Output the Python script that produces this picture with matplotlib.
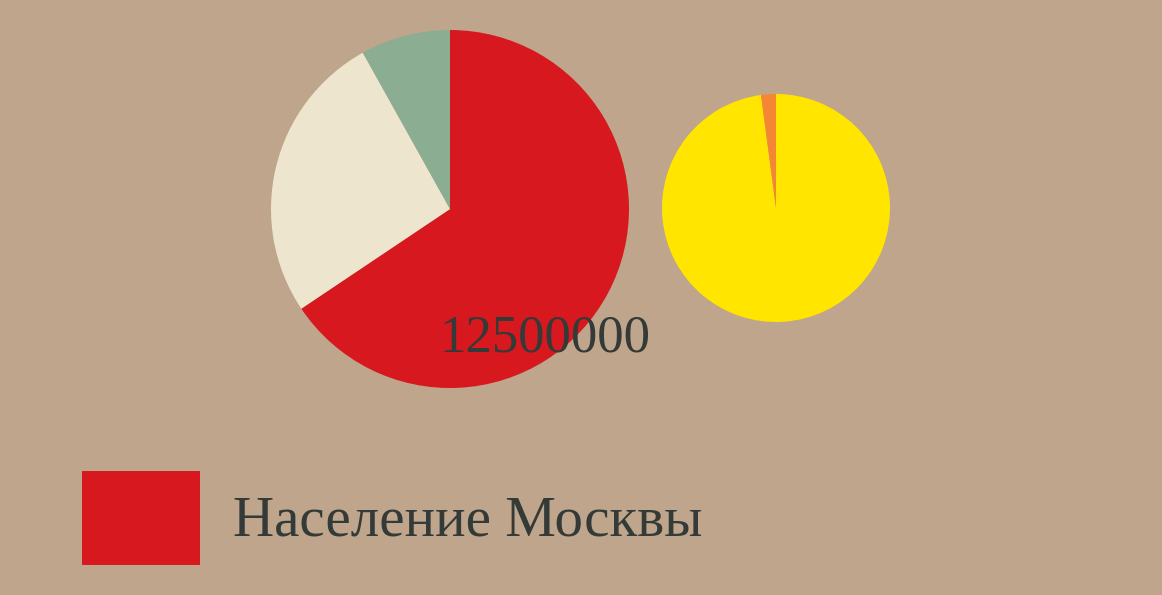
import matplotlib.pyplot as plt
from matplotlib.patches import Rectangle

# Data
big_shares = [65.6, 26.3, 8.1]
big_colors = ['#D7181F', '#EDE5CE', '#8BAE92']
small_shares = [97.9, 2.1]
small_colors = ['#FFE500', '#F58634']
total_label = '12500000'
legend_label = 'Население Москвы'

bg = '#BFA58B'
ink = '#333A38'

fig = plt.figure(figsize=(11.62, 5.95), dpi=100)
fig.patch.set_facecolor(bg)

# big pie
ax1 = fig.add_axes([271 / 1162, (595 - 388) / 595, 358 / 1162, 358 / 595])
ax1.pie(big_shares, colors=big_colors, startangle=90, counterclock=False,
        radius=1, wedgeprops={'linewidth': 0})
ax1.set_xlim(-1, 1)
ax1.set_ylim(-1, 1)
ax1.set_aspect('equal')
ax1.axis('off')

# small pie
ax2 = fig.add_axes([662 / 1162, (595 - 322) / 595, 228 / 1162, 228 / 595])
ax2.pie(small_shares, colors=small_colors, startangle=90, counterclock=False,
        radius=1, wedgeprops={'linewidth': 0})
ax2.set_xlim(-1, 1)
ax2.set_ylim(-1, 1)
ax2.set_aspect('equal')
ax2.axis('off')

# total label
fig.text(545 / 1162, 1 - 351 / 595, total_label, ha='center', va='baseline',
         fontsize=38, family='Liberation Serif', color=ink)

# legend
fig.patches.append(Rectangle((82 / 1162, 1 - 565 / 595), 118 / 1162, 94 / 595,
                             transform=fig.transFigure, facecolor=big_colors[0],
                             edgecolor='none'))
fig.text(233 / 1162, 1 - 536 / 595, legend_label, ha='left', va='baseline',
         fontsize=41, family='Liberation Serif', color=ink)

fig.savefig('out.png', dpi=100, facecolor=bg)
